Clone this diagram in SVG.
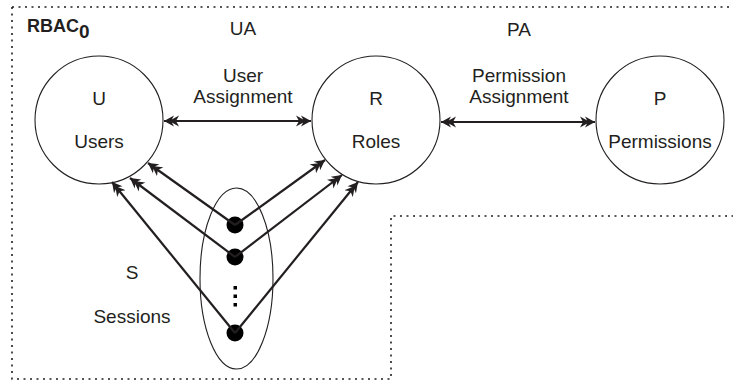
<svg xmlns="http://www.w3.org/2000/svg" width="733" height="382" viewBox="0 0 733 382">
<style>
text{font-family:"Liberation Sans",Arial,sans-serif;font-size:19px;fill:#231f20;text-anchor:middle}
.node{fill:#fff;stroke:#231f20;stroke-width:1.1}
.conn{stroke:#231f20;stroke-width:2.2;fill:none}
.border{fill:none;stroke:#231f20;stroke-width:1.6;stroke-dasharray:2 4.5}
</style>
<defs>
<marker id="dh" viewBox="0 0 15 12" refX="15" refY="6" markerWidth="15" markerHeight="12" markerUnits="userSpaceOnUse" orient="auto-start-reverse">
<path d="M15,6 L5,0.5 L8,6 L5,11.5 Z M10,6 L0,0.5 L3,6 L0,11.5 Z" fill="#231f20"/>
</marker>
</defs>
<path class="border" d="M12,7 H733 M12,7 V379 H391 V216 H733"/>
<text x="27" y="32" style="text-anchor:start;font-weight:bold;font-size:18px">RBAC<tspan dy="6" font-size="19px">0</tspan></text>
<text x="243" y="35">UA</text>
<text x="519" y="36">PA</text>
<g id="users">
<circle class="node" cx="99" cy="120" r="64"/>
<text x="99" y="105">U</text>
<text x="99" y="148">Users</text>
</g>
<g id="roles">
<circle class="node" cx="376" cy="120" r="64"/>
<text x="376" y="105">R</text>
<text x="376" y="148">Roles</text>
</g>
<g id="permissions">
<circle class="node" cx="660" cy="120" r="64"/>
<text x="660" y="105">P</text>
<text x="660" y="148">Permissions</text>
</g>
<g id="sessions">
<ellipse class="node" cx="236.5" cy="278.5" rx="36.5" ry="90.5" fill="none"/>
<circle cx="235" cy="225" r="8.5" fill="#000"/>
<circle cx="235" cy="257" r="8.5" fill="#000"/>
<circle cx="235" cy="333" r="8.5" fill="#000"/>
<rect x="233.5" y="286" width="3.5" height="3.5" fill="#000"/>
<rect x="233.5" y="294.5" width="3.5" height="3.5" fill="#000"/>
<rect x="233.5" y="303" width="3.5" height="3.5" fill="#000"/>
<text x="132" y="279">S</text>
<text x="132" y="323">Sessions</text>
</g>
<g id="labels">
<text x="243" y="82">User</text>
<text x="243" y="103">Assignment</text>
<text x="519" y="82">Permission</text>
<text x="519" y="103">Assignment</text>
</g>
<g id="connectors">
<line class="conn" x1="164" y1="121" x2="311" y2="121" marker-start="url(#dh)" marker-end="url(#dh)"/>
<line class="conn" x1="441" y1="122" x2="595" y2="122" marker-start="url(#dh)" marker-end="url(#dh)"/>
<line class="conn" x1="235" y1="225" x2="148" y2="163" marker-end="url(#dh)"/>
<line class="conn" x1="235" y1="257" x2="130" y2="178" marker-end="url(#dh)"/>
<line class="conn" x1="235" y1="333" x2="112" y2="182" marker-end="url(#dh)"/>
<line class="conn" x1="235" y1="225" x2="325" y2="160" marker-end="url(#dh)"/>
<line class="conn" x1="235" y1="257" x2="342" y2="175" marker-end="url(#dh)"/>
<line class="conn" x1="235" y1="333" x2="358" y2="182" marker-end="url(#dh)"/>
</g>
</svg>
